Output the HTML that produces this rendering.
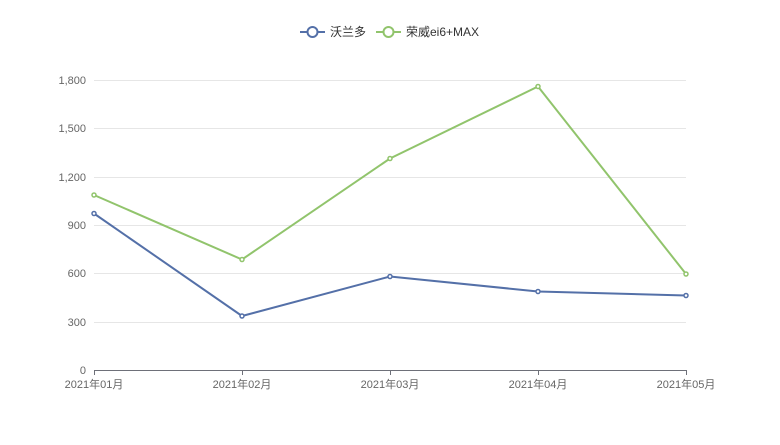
<!DOCTYPE html>
<html><head><meta charset="utf-8"><style>
body{margin:0;background:#fff;}
svg text{font-family:"Liberation Sans","Noto Sans CJK SC",sans-serif;font-size:11px;fill:#666;}
</style></head><body>
<svg width="780" height="440" xmlns="http://www.w3.org/2000/svg">
<g stroke="#e6e6e6" stroke-width="1">
<line x1="94" y1="80.5" x2="686" y2="80.5"/>
<line x1="94" y1="128.5" x2="686" y2="128.5"/>
<line x1="94" y1="177.5" x2="686" y2="177.5"/>
<line x1="94" y1="225.5" x2="686" y2="225.5"/>
<line x1="94" y1="273.5" x2="686" y2="273.5"/>
<line x1="94" y1="322.5" x2="686" y2="322.5"/>
</g>
<line x1="94" y1="370.5" x2="686" y2="370.5" stroke="#6e7079"/>
<g stroke="#6e7079"><line x1="94.5" y1="370" x2="94.5" y2="375"/><line x1="242.5" y1="370" x2="242.5" y2="375"/><line x1="390.5" y1="370" x2="390.5" y2="375"/><line x1="538.5" y1="370" x2="538.5" y2="375"/><line x1="686.5" y1="370" x2="686.5" y2="375"/></g>
<g text-anchor="end">
<text x="86" y="84">1,800</text><text x="86" y="132">1,500</text><text x="86" y="181">1,200</text><text x="86" y="229">900</text><text x="86" y="277">600</text><text x="86" y="326">300</text><text x="86" y="374">0</text>
</g>
<g text-anchor="middle">
<text x="94" y="388">2021年01月</text><text x="242" y="388">2021年02月</text><text x="390" y="388">2021年03月</text><text x="538" y="388">2021年04月</text><text x="686" y="388">2021年05月</text>
</g>
<polyline points="94,213.5 242,316 390,276.5 538,291.5 686,295.5" fill="none" stroke="#5470a8" stroke-width="2"/>
<polyline points="94,195 242,259.5 390,158.5 538,86.5 686,274" fill="none" stroke="#91c46c" stroke-width="2"/>
<g fill="#fff" stroke="#5470a8" stroke-width="1.5">
<circle cx="94" cy="213.5" r="2"/><circle cx="242" cy="316" r="2"/><circle cx="390" cy="276.5" r="2"/><circle cx="538" cy="291.5" r="2"/><circle cx="686" cy="295.5" r="2"/>
</g>
<g fill="#fff" stroke="#91c46c" stroke-width="1.5">
<circle cx="94" cy="195" r="2"/><circle cx="242" cy="259.5" r="2"/><circle cx="390" cy="158.5" r="2"/><circle cx="538" cy="86.5" r="2"/><circle cx="686" cy="274" r="2"/>
</g>
<line x1="300" y1="32" x2="325" y2="32" stroke="#5470a8" stroke-width="2"/>
<circle cx="312.5" cy="32" r="5" fill="#fff" stroke="#5470a8" stroke-width="2"/>
<text x="330" y="36" font-size="12" style="font-size:12px;fill:#333">沃兰多</text>
<line x1="376" y1="32" x2="401" y2="32" stroke="#91c46c" stroke-width="2"/>
<circle cx="388.5" cy="32" r="5" fill="#fff" stroke="#91c46c" stroke-width="2"/>
<text x="406" y="36" style="font-size:12px;fill:#333">荣威ei6+MAX</text>
</svg>
</body></html>
